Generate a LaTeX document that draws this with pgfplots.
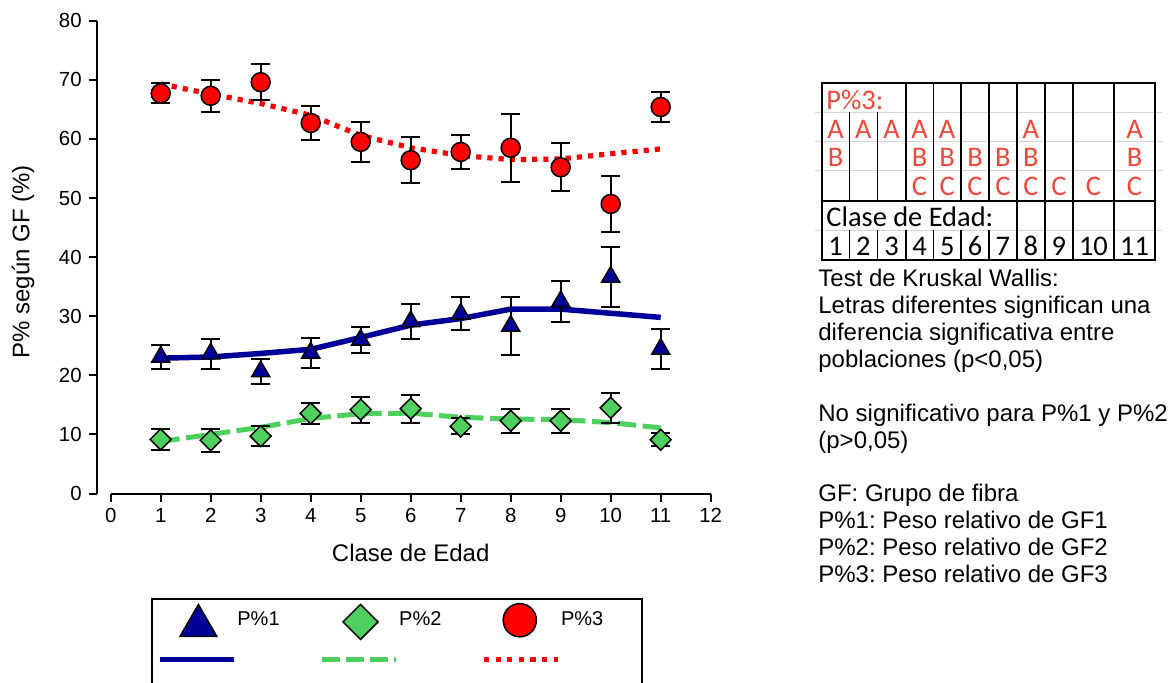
\documentclass[border=0pt]{standalone}
\usepackage{pgfplots}
\pgfplotsset{compat=1.18}
\usepackage{pgfplotstable}
\usepackage{fontspec}
\setmainfont{Liberation Sans}
\newfontfamily\carlito{Carlito}

\definecolor{gfblue}{RGB}{0,0,153}
\definecolor{gfgreen}{RGB}{77,208,94}
\definecolor{gfred}{RGB}{255,0,0}
\definecolor{kwred}{RGB}{238,72,58}
\definecolor{gridgray}{RGB}{212,212,212}

% means and error bars
\pgfplotstableread{
x y e
1 23.1 2.0
2 23.65 2.55
3 20.65 2.15
4 23.8 2.5
5 26.0 2.2
6 29.1 2.9
7 30.4 2.8
8 28.35 4.85
9 32.5 3.5
10 36.65 5.05
11 24.45 3.35
}\pone
\pgfplotstableread{
x y e
1 9.15 1.85
2 9.0 2.0
3 9.7 1.7
4 13.55 1.75
5 14.2 2.2
6 14.35 2.35
7 11.35 1.35
8 12.3 2.0
9 12.3 2.0
10 14.5 2.5
11 9.1 1.1
}\ptwo
\pgfplotstableread{
x y e
1 67.7 1.7
2 67.3 2.7
3 69.6 3.05
4 62.7 2.85
5 59.5 3.4
6 56.4 3.9
7 57.8 2.85
8 58.5 5.8
9 55.2 4.05
10 49.0 4.7
11 65.4 2.5
}\pthree

% trend lines
\pgfplotstableread{
x t1 t2 t3
1 22.9 8.8 69.3
2 23.1 10.0 67.6
3 23.7 11.2 66.0
4 24.4 12.7 64.0
5 26.4 13.5 60.6
6 28.5 13.6 58.5
7 29.6 12.9 57.2
8 31.2 12.6 56.5
9 31.2 12.5 56.6
10 30.5 12.0 57.5
11 29.8 11.1 58.3
}\trend

\newcommand\legbox{\pgfpathrectangle{\pgfpoint{0pt}{-21pt}}{\pgfpoint{36.5pt}{30pt}}\pgfusepath{use as bounding box}}

\begin{document}
\frenchspacing
\begin{tikzpicture}
\begin{axis}[
  at={(0pt,0pt)}, anchor=south west,
  scale only axis, width=307pt, height=236.4pt,
  xmin=-0.28, xmax=12, ymin=0, ymax=80,
  axis x line*=bottom, axis y line*=left,
  axis line style={-},
  x axis line style={draw=none},
  y axis line style={line width=1pt},
  xtick={0,...,12}, ytick={0,10,...,80},
  tick align=outside, major tick length=4pt,
  tick style={line width=1pt, black},
  ticklabel style={font=\fontsize{10.2}{12}\selectfont},
  /pgf/number format/assume math mode=true,
  xlabel={Clase de Edad},
  ylabel={P\% según GF (\%)},
  label style={font=\fontsize{12}{14}\selectfont},
  xlabel style={at={(axis description cs:0.5114,-0.1438)}, anchor=base},
  ylabel style={at={(axis description cs:-0.12,0.49)}, anchor=center},
  clip=false,
  legend columns=3,
  legend cell align=left,
  legend style={at={(axis description cs:0.1031,-0.2295)}, anchor=north west,
    draw=none, fill=none, inner sep=0pt, column sep=0pt, row sep=0pt,
    cells={inner sep=0pt}, font=\fontsize{10}{12}\selectfont,
    /tikz/every even column/.append style={column sep=19.3pt}},
]
\addlegendimage{legend image code/.code={
  \legbox
  \draw[gfblue, line width=2.75pt] (0pt,-19.65pt) -- (37pt,-19.65pt);
  \draw[black, fill=gfblue, line width=0.75pt] plot[only marks, mark=triangle*, mark size=10.6pt] coordinates {(19pt,-2.65pt)};
}}
\addlegendentry{P\%1}
\addlegendimage{legend image code/.code={
  \legbox
  \draw[gfgreen, line width=2.5pt, dash pattern=on 9pt off 3pt] (0pt,-19.65pt) -- (37pt,-19.65pt);
  \draw[black, fill=gfgreen, line width=0.75pt] plot[only marks, mark=square*, mark size=6.2pt, mark options={rotate=45}] coordinates {(19.15pt,-0.75pt)};
}}
\addlegendentry{P\%2}
\addlegendimage{legend image code/.code={
  \legbox
  \draw[gfred, line width=2.6pt, dash pattern=on 2.6pt off 3.2pt] (0pt,-19.65pt) -- (37pt,-19.65pt);
  \draw[black, fill=gfred, line width=0.75pt] plot[only marks, mark=*, mark size=8.3pt] coordinates {(17.85pt,0.1pt)};
}}
\addlegendentry{P\%3}

\draw[line width=1pt] (axis cs:0,0) -- (axis cs:12,0);

\addplot[gfblue, line width=2.75pt, forget plot] table[x=x, y=t1] {\trend};
\addplot[gfgreen, line width=2.5pt, dash pattern=on 9.5pt off 3.25pt, forget plot] table[x=x, y=t2] {\trend};
\addplot[gfred, line width=2.6pt, dash pattern=on 2.6pt off 3pt, forget plot] table[x=x, y=t3] {\trend};

\addplot[only marks, forget plot, mark=triangle*, mark size=5.2pt,
  mark options={fill=gfblue, draw=black, line width=0.75pt},
  error bars/.cd, y dir=both, y explicit,
  error bar style={black, line width=1pt},
  error mark options={rotate=90, black, mark size=4.75pt, line width=1pt}]
  table[x=x, y=y, y error=e] {\pone};
\addplot[only marks, forget plot, mark=square*, mark size=3.7pt,
  mark options={rotate=45, fill=gfgreen, draw=black, line width=0.75pt},
  error bars/.cd, y dir=both, y explicit,
  error bar style={black, line width=1pt},
  error mark options={rotate=90, black, mark size=4.75pt, line width=1pt}]
  table[x=x, y=y, y error=e] {\ptwo};
\addplot[only marks, forget plot, mark=*, mark size=4.75pt,
  mark options={fill=gfred, draw=black, line width=0.75pt},
  error bars/.cd, y dir=both, y explicit,
  error bar style={black, line width=1pt},
  error mark options={rotate=90, black, mark size=4.75pt, line width=1pt}]
  table[x=x, y=y, y error=e] {\pthree};
\end{axis}

% everything below is in reference pixels
\begin{scope}[x=0.5pt, y=-0.5pt, shift={(-96.7,-493.5)}]
  % legend frame (its lower edge is cut by the page)
  \draw[line width=1pt] (151.7,700) -- (151.7,599.3) -- (641.7,599.3) -- (641.7,700);

  % Kruskal-Wallis table
  \foreach \r in {112.3,141.7,170.7,230}
    \draw[gridgray, line width=0.5pt] (815,\r) -- (1162,\r);
  \draw[line width=1pt] (821.7,83.3) rectangle (1155,260);
  \draw[line width=1pt] (821.7,200.7) -- (1155,200.7);
  \foreach \c in {849.3,877.3} {
    \draw[line width=0.8pt] (\c,112.3) -- (\c,200.7);
    \draw[line width=0.8pt] (\c,230) -- (\c,260);
  }
  \foreach \c in {905.7,933.3,961,989} {
    \draw[line width=0.8pt] (\c,83.3) -- (\c,200.7);
    \draw[line width=0.8pt] (\c,230) -- (\c,260);
  }
  \foreach \c in {1016.7,1045,1072.7,1114}
    \draw[line width=0.8pt] (\c,83.3) -- (\c,260);

  \begin{scope}[every node/.style={inner sep=0pt, font=\carlito\fontsize{14.2}{16}\selectfont}]
    \node[kwred, anchor=base west] at (826,109.3) {P\%3:};
    \foreach \c in {835.5,863.3,891.5,919.5,947.2,1030.9,1134.5}
      \node[kwred, anchor=base] at (\c,138.3) {A};
    \foreach \c in {835.5,919.5,947.2,975,1002.9,1030.9,1134.5}
      \node[kwred, anchor=base] at (\c,166) {B};
    \foreach \c in {919.5,947.2,975,1002.9,1030.9,1058.9,1093.4,1134.5}
      \node[kwred, anchor=base] at (\c,195) {C};
    \node[anchor=base west] at (826,226.7) {Clase de Edad:};
    \foreach \c/\n in {835.5/1,863.3/2,891.5/3,919.5/4,947.2/5,975/6,1002.9/7,1030.9/8,1058.9/9,1093.4/10,1134.5/11}
      \node[anchor=base] at (\c,255) {\n};
  \end{scope}

  % notes
  \begin{scope}[every node/.style={inner sep=0pt, anchor=base west, font=\fontsize{12}{14}\selectfont}]
    \node at (818,286.7) {Test de Kruskal Wallis:};
    \node at (818,313.6) {Letras diferentes significan una};
    \node at (818,340.5) {diferencia significativa entre};
    \node at (818,367.4) {poblaciones (p<0,05)};
    \node at (818,421.2) {No significativo para P\%1 y P\%2};
    \node at (818,448.1) {(p>0,05)};
    \node at (818,501.9) {GF: Grupo de fibra};
    \node at (818,528.8) {P\%1: Peso relativo de GF1};
    \node at (818,555.7) {P\%2: Peso relativo de GF2};
    \node at (818,582.6) {P\%3: Peso relativo de GF3};
  \end{scope}

  \pgfresetboundingbox
  \path[use as bounding box] (0,0) rectangle (1169,682);
\end{scope}
\end{tikzpicture}
\end{document}
